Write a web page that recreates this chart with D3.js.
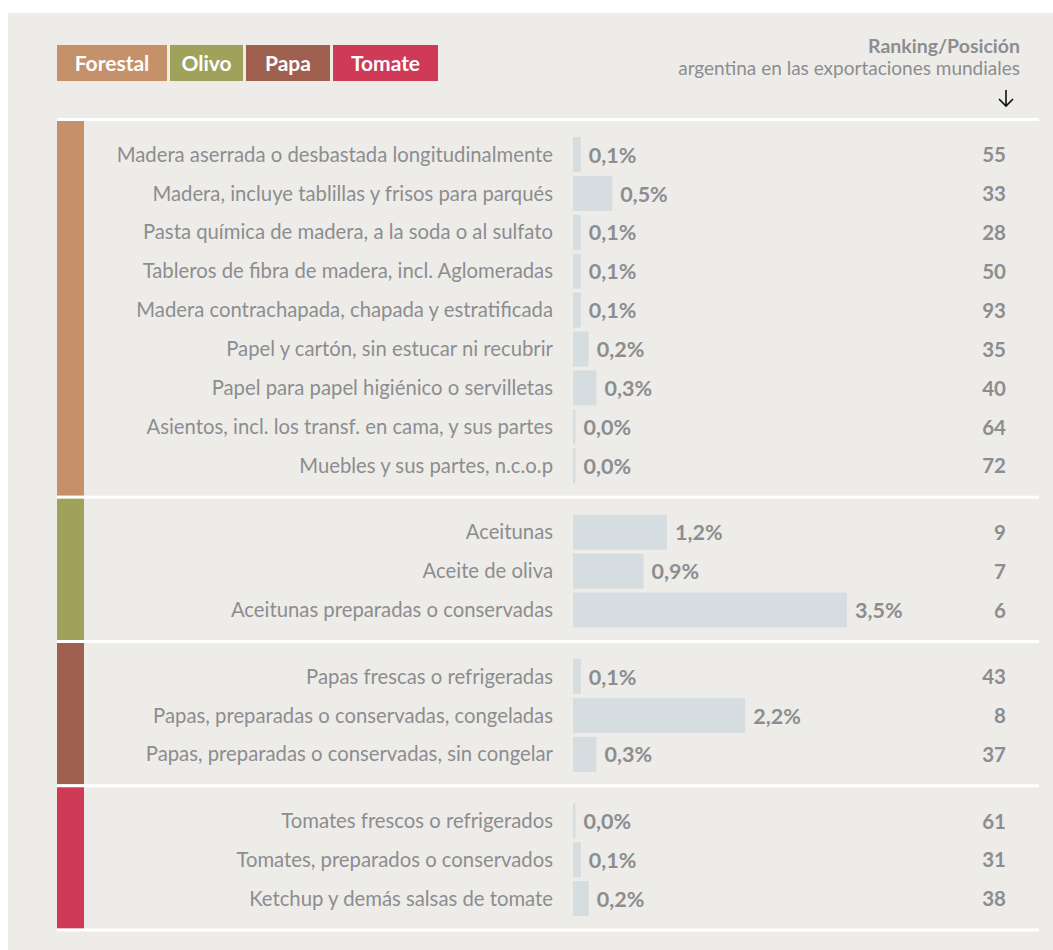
<!DOCTYPE html>
<html>
<head>
<meta charset="utf-8">
<script src="https://cdn.jsdelivr.net/npm/d3@7/dist/d3.min.js"></script>
<style>
  body { margin: 0; background: #fff; }
  svg { display: block; font-family: Lato, 'Open Sans', sans-serif; }
  .row-label { fill: #8c8d91; font-size: 20.3px; }
  .value-label { fill: #8c8d91; font-size: 21.5px; font-weight: bold; }
  .rank-label { fill: #8c8d91; font-size: 20.5px; font-weight: bold; }
  .legend-label { fill: #fff; font-size: 21px; font-weight: bold; }
  .head-title { fill: #8c8d91; font-size: 19.5px; font-weight: bold; }
  .head-sub { fill: #8c8d91; font-size: 19px; }
  .bar { fill: #d5dde0; }
  .sep { stroke: #fff; stroke-width: 3; }
</style>
</head>
<body>
<svg id="chart"></svg>
<script>
'use strict';

var groups = ['Forestal', 'Olivo', 'Papa', 'Tomate'];
var groupColors = ['#c4916a', '#a0a15a', '#a06050', '#cf3a57'];

var forestalItems = [
  'Madera aserrada o desbastada longitudinalmente',
  'Madera, incluye tablillas y frisos para parqués',
  'Pasta química de madera, a la soda o al sulfato',
  'Tableros de fibra de madera, incl. Aglomeradas',
  'Madera contrachapada, chapada y estratificada',
  'Papel y cartón, sin estucar ni recubrir',
  'Papel para papel higiénico o servilletas',
  'Asientos, incl. los transf. en cama, y sus partes',
  'Muebles y sus partes, n.c.o.p'
];
var forestalShares = [0.1, 0.5, 0.1, 0.1, 0.1, 0.2, 0.3, 0.0, 0.0];
var forestalRanks = [55, 33, 28, 50, 93, 35, 40, 64, 72];

var olivoItems = ['Aceitunas', 'Aceite de oliva', 'Aceitunas preparadas o conservadas'];
var olivoShares = [1.2, 0.9, 3.5];
var olivoRanks = [9, 7, 6];

var papaItems = [
  'Papas frescas o refrigeradas',
  'Papas, preparadas o conservadas, congeladas',
  'Papas, preparadas o conservadas, sin congelar'
];
var papaShares = [0.1, 2.2, 0.3];
var papaRanks = [43, 8, 37];

var tomateItems = [
  'Tomates frescos o refrigerados',
  'Tomates, preparados o conservados',
  'Ketchup y demás salsas de tomate'
];
var tomateShares = [0.0, 0.1, 0.2];
var tomateRanks = [61, 31, 38];

var headerTitle = 'Ranking/Posición';
var headerSub = 'argentina en las exportaciones mundiales';

var WIDTH = 1053,
  HEIGHT = 950,
  LEFT = 57,
  RIGHT = 1039,
  LABEL_X = 553,
  RANK_X = 1006,
  ROW_STEP = 38.9,
  BAR_H = 35,
  PAD_TOP = 16,
  PAD_BOTTOM = 12.5,
  LEGEND_W = [110, 73, 84, 105];

var sections = [
  { items: forestalItems, shares: forestalShares, ranks: forestalRanks },
  { items: olivoItems, shares: olivoShares, ranks: olivoRanks },
  { items: papaItems, shares: papaShares, ranks: papaRanks },
  { items: tomateItems, shares: tomateShares, ranks: tomateRanks }
];

var fmt = function(v) { return d3.format('.1f')(v).replace('.', ',') + '%'; };

var svg = d3.select('#chart')
  .attr('width', WIDTH)
  .attr('height', HEIGHT);

// panel
svg.append('rect')
  .attr('x', 8).attr('y', 13)
  .attr('width', WIDTH - 8).attr('height', HEIGHT - 13)
  .attr('fill', '#eeece8');

// legend
var lx = LEFT;
groups.forEach(function(g, i) {
  var item = svg.append('g').attr('transform', 'translate(' + lx + ',45)');
  item.append('rect')
    .attr('width', LEGEND_W[i])
    .attr('height', 36)
    .attr('fill', groupColors[i]);
  item.append('text')
    .attr('class', 'legend-label')
    .attr('x', LEGEND_W[i] / 2)
    .attr('y', 18)
    .attr('dy', '0.36em')
    .attr('text-anchor', 'middle')
    .text(g);
  lx += LEGEND_W[i] + 3;
});

// header on the right
svg.append('text')
  .attr('class', 'head-title')
  .attr('x', 1020).attr('y', 53)
  .attr('text-anchor', 'end')
  .text(headerTitle);

svg.append('text')
  .attr('class', 'head-sub')
  .attr('x', 1020).attr('y', 75)
  .attr('text-anchor', 'end')
  .text(headerSub);

svg.append('path')
  .attr('d', 'M' + RANK_X + ',90V106M' + (RANK_X - 7) + ',99L' + RANK_X + ',106L' + (RANK_X + 7) + ',99')
  .attr('fill', 'none')
  .attr('stroke', '#111')
  .attr('stroke-width', 1.6);

var xScale = d3.scaleLinear()
  .domain([0, 3.5])
  .range([573, 847]);

function separator(y) {
  svg.append('line')
    .attr('class', 'sep')
    .attr('x1', LEFT).attr('x2', RIGHT)
    .attr('y1', y).attr('y2', y);
}

var yPos = 119.5;
separator(yPos);
yPos += 1.5;

sections.forEach(function(sec, gi) {
  var n = sec.items.length,
    gap = ROW_STEP - BAR_H,
    h = PAD_TOP + n * ROW_STEP - gap + PAD_BOTTOM;

  var yScale = d3.scaleBand()
    .domain(d3.range(n))
    .range([yPos + PAD_TOP, yPos + PAD_TOP + n * ROW_STEP - gap])
    .paddingInner(gap / ROW_STEP)
    .paddingOuter(0);

  svg.append('rect')
    .attr('x', LEFT).attr('y', yPos)
    .attr('width', 27).attr('height', h)
    .attr('fill', groupColors[gi]);

  var rows = svg.append('g')
    .selectAll('g')
    .data(d3.range(n))
    .enter()
    .append('g');

  var barW = function(i) { return Math.max(2.5, xScale(sec.shares[i]) - xScale(0)); };
  var midY = function(i) { return yScale(i) + yScale.bandwidth() / 2; };

  rows.append('rect')
    .attr('class', 'bar')
    .attr('x', xScale(0))
    .attr('y', function(i) { return yScale(i); })
    .attr('width', barW)
    .attr('height', yScale.bandwidth());

  rows.append('text')
    .attr('class', 'row-label')
    .attr('x', LABEL_X)
    .attr('y', midY)
    .attr('dy', '0.35em')
    .attr('text-anchor', 'end')
    .text(function(i) { return sec.items[i]; });

  rows.append('text')
    .attr('class', 'value-label')
    .attr('x', function(i) { return xScale(0) + barW(i) + 8; })
    .attr('y', midY)
    .attr('dy', '0.38em')
    .text(function(i) { return fmt(sec.shares[i]); });

  rows.append('text')
    .attr('class', 'rank-label')
    .attr('x', RANK_X)
    .attr('y', midY)
    .attr('dy', '0.38em')
    .attr('text-anchor', 'end')
    .text(function(i) { return sec.ranks[i]; });

  yPos += h;
  separator(yPos + 1.5);
  yPos += 3;
});
</script>
</body>
</html>
